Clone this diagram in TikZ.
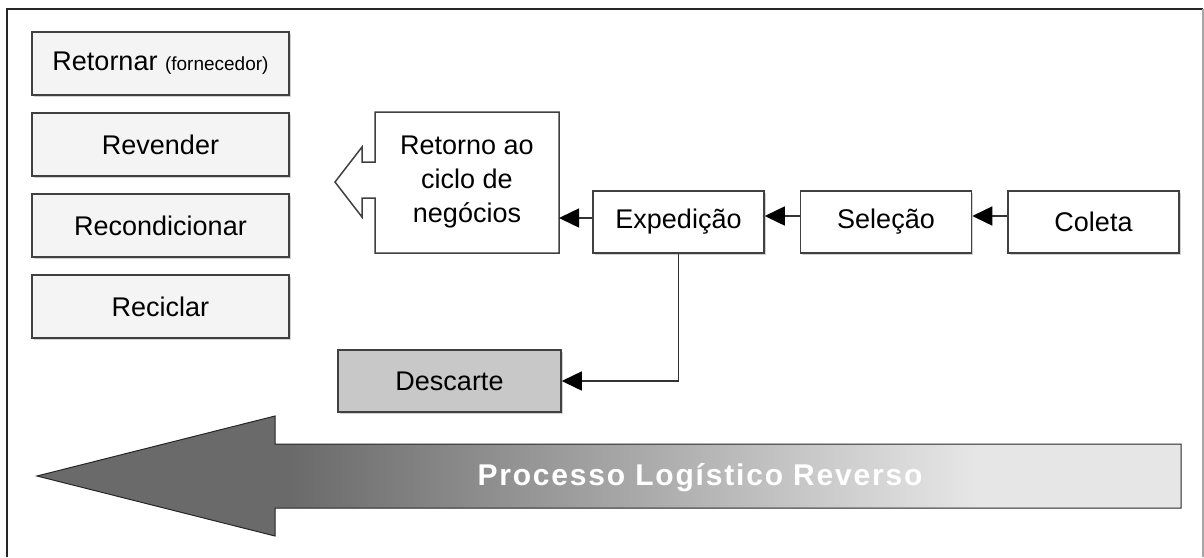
\documentclass[tikz,border=0pt]{standalone}
\usepackage{fontspec}
\setmainfont{Liberation Sans}
\usetikzlibrary{arrows.meta,calc,positioning,shadows}
\newdimen\hdim
\newdimen\wdim
\newdimen\odim
\hdim=62pt
\wdim=171pt
\odim=35pt
\definecolor{optfill}{HTML}{F4F4F4}
\definecolor{discfill}{HTML}{C8C8C8}
\definecolor{flowdark}{HTML}{6A6A6A}
\definecolor{flowlight}{HTML}{E6E6E6}
\pgfdeclarehorizontalshading{flowshade}{100bp}{%
  color(0bp)=(flowdark); color(36bp)=(flowdark);
  color(66bp)=(flowlight); color(100bp)=(flowlight)}
\tikzstyle{procbox}=[
  draw=black!75,
  fill=white,
  font={\fontsize{27}{34}\selectfont},
  inner sep=0pt,
  line width=1.5pt,
  minimum height=\hdim,
  minimum width=\wdim,
  rectangle,
  align=center,
  drop shadow={shadow xshift=1.5pt, shadow yshift=-1.5pt, fill=black!35},
]
\tikzstyle{optbox}=[
  procbox,
  fill=optfill,
  minimum height=63pt,
  minimum width=257pt,
]
\tikzstyle{retbox}=[
  font={\fontsize{27}{34}\selectfont},
  align=center,
  inner sep=0pt,
  outer sep=0pt,
  minimum height=141pt,
  minimum width=184pt,
]
\tikzstyle{outline}=[
  draw=black!75,
  line width=1.5pt,
  line join=miter,
]
\tikzstyle{arrow}=[
  draw=black!80,
  line width=1.5pt,
]
\tikzstyle{frame}=[
  draw=black!85,
  line width=2.5pt,
]
\tikzset{
  x=1pt, y=-1pt,
  node distance=\odim,
  >={Triangle[length=20pt,width=19pt,color=black]},
}
\begin{document}
\begin{tikzpicture}
  \useasboundingbox (0,0) rectangle (1204,557);
  \draw [frame] (7,557) -- (7,9) -- (1203,9);
  \draw [draw=black!35, line width=1.5pt] (1203,9) -- (1203,557);

  % destinos
  \node (retornar) [optbox] at (160.5,63.5) {Retornar {\fontsize{19}{22}\selectfont(fornecedor)}};
  \node (revender) [optbox, below=16.5pt of retornar] {Revender};
  \node (recondicionar) [optbox, below=16.5pt of revender] {Recondicionar};
  \node (reciclar) [optbox, below=16.5pt of recondicionar] {Reciclar};

  % fluxo
  \node (coleta) [procbox] at (1093.5,222) {Coleta};
  \node (selecao) [procbox, left=of coleta] {Seleção};
  \node (expedicao) [procbox, left=of selecao] {Expedição};
  \node (retorno) [retbox] at (467,182.5) {Retorno ao\\ciclo de\\negócios};
  \draw [outline] (retorno.north west) -- (retorno.north east) -- (retorno.south east)
    -- (retorno.south west) -- ++(0,-55) -- ++(-13,0) -- ++(0,19) -- ++(-27,-35)
    -- ++(27,-35) -- ++(0,15) -- ++(13,0) -- cycle;
  \node (descarte) [procbox, fill=discfill, minimum width=223pt] at (449.5,381) {Descarte};

  \draw [->, arrow] ([yshift=6pt]coleta.west) -- ([yshift=6pt]selecao.east);
  \draw [->, arrow] ([yshift=6pt]selecao.west) -- ([yshift=6pt]expedicao.east);
  \draw [->, arrow] ([yshift=4pt]expedicao.west) -- ([yshift=4pt]expedicao.west -| retorno.east);
  \draw [->, arrow] (expedicao.south) |- (descarte.east);

  % seta do processo
  \shadedraw [shading=flowshade, draw=black!85, line width=1pt]
    (37,476) -- (275,416) -- (275,444) -- (1181,444) -- (1181,508)
    -- (275,508) -- (275,536) -- cycle;
  \node (processo) [text=white, font={\fontsize{30}{36}\selectfont\bfseries\addfontfeature{LetterSpace=6}}]
    at (700,478) {Processo Logístico Reverso};
\end{tikzpicture}
\end{document}
